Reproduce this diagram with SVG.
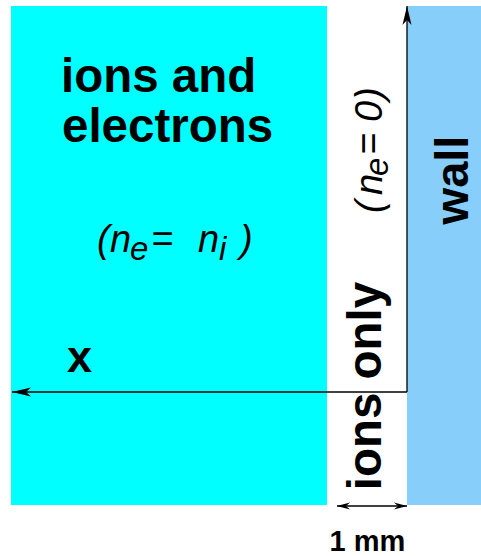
<svg xmlns="http://www.w3.org/2000/svg" width="481" height="556" viewBox="0 0 481 556">
<style>
.b{font-family:"Liberation Sans",Arial,sans-serif;font-weight:bold;fill:#000}
.it{font-family:"Liberation Sans",Arial,sans-serif;font-style:italic;fill:#000}
.ln{stroke:#000;stroke-width:1.3;fill:none}
</style>
<defs>
<marker id="ah" markerUnits="userSpaceOnUse" markerWidth="24" markerHeight="12" viewBox="-20 -6 22 12" refX="0" refY="0" orient="auto">
<path d="M0,0 L-19,-4.5 L-14,0 L-19,4.5 Z" fill="#000"/>
</marker>
<marker id="sh" markerUnits="userSpaceOnUse" markerWidth="16" markerHeight="10" viewBox="-14 -5 16 10" refX="0" refY="0" orient="auto-start-reverse">
<path d="M0,0 L-13,-3.5 L-9,0 L-13,3.5 Z" fill="#000"/>
</marker>
</defs>
<rect width="481" height="556" fill="#fff"/>
<g id="plasma">
<rect x="11" y="6" width="316" height="499" fill="#00FFFF"/>
<text class="b" x="61" y="92" font-size="47.5">ions and</text>
<text class="b" x="62" y="142" font-size="47.5">electrons</text>
<text class="it" y="252" font-size="38"><tspan x="97">(</tspan><tspan x="110">n</tspan><tspan x="130" dy="8" font-size="33">e</tspan><tspan x="151" dy="-8">=</tspan><tspan x="198">n</tspan><tspan x="219" dy="8" font-size="33">i</tspan><tspan x="240" dy="-8">)</tspan></text>
<text class="b" x="67" y="372" font-size="45">x</text>
</g>
<g id="wall">
<rect x="407" y="6" width="74" height="499" fill="#87CEFA"/>
<text class="b" font-size="47" text-anchor="middle" transform="translate(468,180) rotate(-90)">wall</text>
</g>
<g id="sheath">
<text class="b" font-size="47.5" text-anchor="middle" transform="translate(381,386) rotate(-90)">ions only</text>
<text class="it" font-size="38" transform="translate(382,218) rotate(-90)"><tspan x="5">(</tspan><tspan x="23">n</tspan><tspan x="42" dy="6" font-size="33">e</tspan><tspan x="63" dy="-6">=</tspan><tspan x="96">0</tspan><tspan x="118">)</tspan></text>
<text class="b" x="367.5" y="551" font-size="29" text-anchor="middle">1 mm</text>
</g>
<g id="connectors">
<path class="ln" d="M407,392 L407,6" marker-end="url(#ah)"/>
<path class="ln" d="M407,392 L12,392" marker-end="url(#ah)"/>
<path class="ln" d="M337,506 L407,506" marker-start="url(#sh)" marker-end="url(#sh)"/>
</g>
</svg>
